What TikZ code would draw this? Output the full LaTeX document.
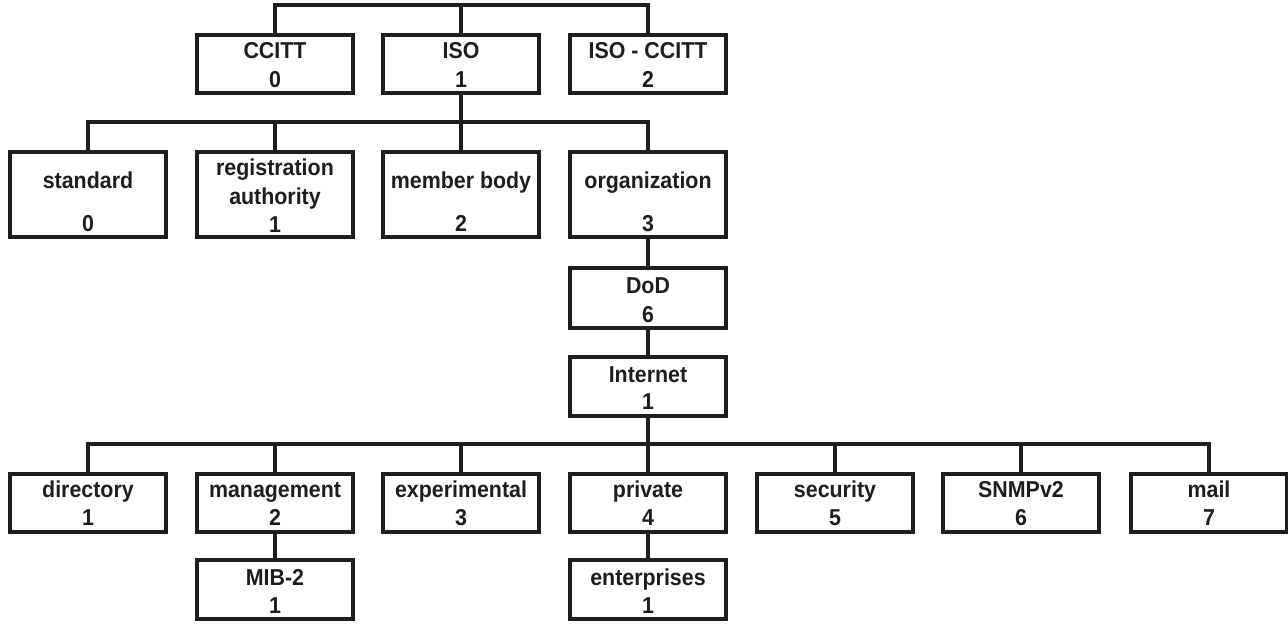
\documentclass[tikz,border=0pt]{standalone}
\usepackage{fontspec}
\setmainfont{Liberation Sans}[FakeStretch=0.93]
\definecolor{ink}{HTML}{1E1E1E}
\begin{document}
\begin{tikzpicture}[x=1pt,y=-1pt,
  box/.style={draw=ink,line width=3.2pt,rectangle,minimum width=156pt,inner sep=0pt,outer sep=0pt},
  r1/.style={box,minimum height=58pt},
  r2/.style={box,minimum height=85pt},
  r3/.style={box,minimum height=58pt},
  r4/.style={box,minimum height=59pt},
  txt/.style={anchor=base,inner sep=0pt,text=ink,font=\bfseries\fontsize{23}{28}\selectfont},
  wire/.style={draw=ink,line width=3.2pt}]
\useasboundingbox (0,0) rectangle (1288,630);
\fill[white] (0,0) rectangle (1288,630);
% coordinates of buses
\coordinate (bus1) at (461,5);
\coordinate (bus2) at (461,122);
\coordinate (bus3) at (648,444);
% row 1
\node[r1] (ccitt) at (275,64) {};
\node[r1] (iso) at (461,64) {};
\node[r1] (isoccitt) at (648,64) {};
\node[txt] (ccittA) at (275,58) {CCITT};
\node[txt] (ccittB) at (275,87) {0};
\node[txt] (isoA) at (461,58) {ISO};
\node[txt] (isoB) at (461,87) {1};
\node[txt] (isoccittA) at (648,58) {ISO - CCITT};
\node[txt] (isoccittB) at (648,87) {2};
% row 2
\node[r2] (standard) at (88,194.5) {};
\node[r2] (regauth) at (275,194.5) {};
\node[r2] (member) at (461,194.5) {};
\node[r2] (org) at (648,194.5) {};
\node[txt] (standardA) at (88,188) {standard};
\node[txt] (standardB) at (88,231) {0};
\node[txt] (regauthA) at (275,175) {registration};
\node[txt] (regauthB) at (275,204) {authority};
\node[txt] (regauthC) at (275,232) {1};
\node[txt] (memberA) at (461,188) {member body};
\node[txt] (memberB) at (461,231) {2};
\node[txt] (orgA) at (648,188) {organization};
\node[txt] (orgB) at (648,231) {3};
% DoD and Internet
\node[box,minimum height=60pt] (dod) at (648,298) {};
\node[txt] (dodA) at (648,293) {DoD};
\node[txt] (dodB) at (648,322) {6};
\node[box,minimum height=59pt] (internet) at (648,386.5) {};
\node[txt] (internetA) at (648,382) {Internet};
\node[txt] (internetB) at (648,409) {1};
% row 3
\node[r3] (directory) at (88,503) {};
\node[r3] (management) at (275,503) {};
\node[r3] (experimental) at (461,503) {};
\node[r3] (private) at (648,503) {};
\node[r3] (security) at (835,503) {};
\node[r3] (snmp) at (1021,503) {};
\node[r3] (mail) at (1209,503) {};
\node[txt] (directoryA) at (88,497) {directory};
\node[txt] (directoryB) at (88,525) {1};
\node[txt] (managementA) at (275,497) {management};
\node[txt] (managementB) at (275,525) {2};
\node[txt] (experimentalA) at (461,497) {experimental};
\node[txt] (experimentalB) at (461,525) {3};
\node[txt] (privateA) at (648,497) {private};
\node[txt] (privateB) at (648,525) {4};
\node[txt] (securityA) at (835,497) {security};
\node[txt] (securityB) at (835,525) {5};
\node[txt] (snmpA) at (1021,497) {SNMPv2};
\node[txt] (snmpB) at (1021,525) {6};
\node[txt] (mailA) at (1209,497) {mail};
\node[txt] (mailB) at (1209,525) {7};
% row 4
\node[r4] (mib) at (275,589.5) {};
\node[r4] (enterprises) at (648,589.5) {};
\node[txt] (mibA) at (275,585) {MIB-2};
\node[txt] (mibB) at (275,613) {1};
\node[txt] (enterprisesA) at (648,585) {enterprises};
\node[txt] (enterprisesB) at (648,613) {1};
% connectors
\draw[wire] (ccitt.north) |- (isoccitt.north |- bus1) -- (isoccitt.north);
\draw[wire] (iso.north) -- (iso.north |- bus1);
\draw[wire] (iso.south) -- (bus2);
\draw[wire] (standard.north) |- (org.north |- bus2) -- (org.north);
\draw[wire] (regauth.north) -- (regauth.north |- bus2);
\draw[wire] (member.north) -- (member.north |- bus2);
\draw[wire] (org.south) -- (dod.north);
\draw[wire] (dod.south) -- (internet.north);
\draw[wire] (internet.south) -- (bus3);
\draw[wire] (directory.north) |- (mail.north |- bus3) -- (mail.north);
\foreach \n in {management,experimental,private,security,snmp}
  \draw[wire] (\n.north) -- (\n.north |- bus3);
\draw[wire] (management.south) -- (mib.north);
\draw[wire] (private.south) -- (enterprises.north);
\end{tikzpicture}
\end{document}
